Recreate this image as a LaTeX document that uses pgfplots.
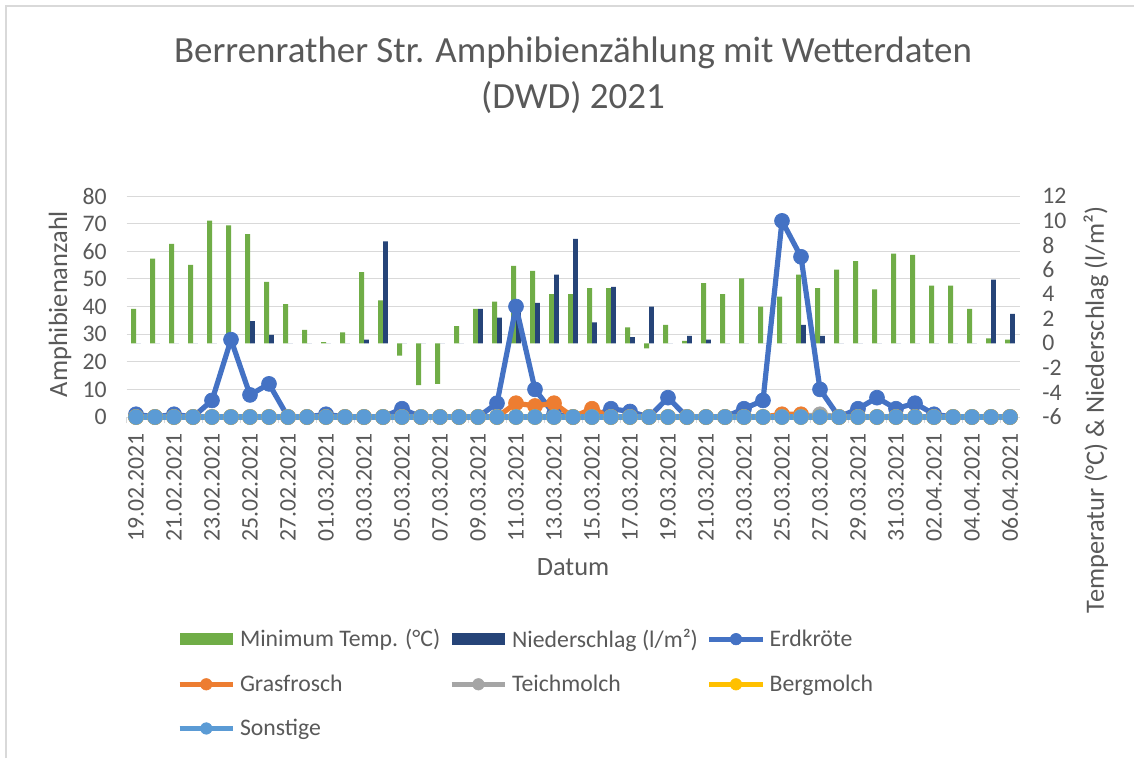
\documentclass[border=0pt]{standalone}
\usepackage{pgfplots}
\pgfplotsset{compat=1.18}
\usepackage{pgfplotstable}
\usepackage{fontspec}
\setmainfont{Carlito}
\definecolor{tgreen}{HTML}{70AD47}
\definecolor{tnavy}{HTML}{264478}
\definecolor{cErd}{HTML}{4472C4}
\definecolor{cGras}{HTML}{ED7D31}
\definecolor{cTeich}{HTML}{A5A5A5}
\definecolor{cBerg}{HTML}{FFC000}
\definecolor{cSons}{HTML}{5B9BD5}
\definecolor{textgrey}{HTML}{595959}
\definecolor{gridgrey}{HTML}{D9D9D9}
\newcommand{\lblfont}{\fontsize{17.8pt}{21pt}\selectfont}
\newcommand{\axtfont}{\fontsize{19.8pt}{23pt}\selectfont}
\newcommand{\ttlfont}{\fontsize{27.7pt}{34.5pt}\selectfont}

\pgfplotstableread{
x temp rain erd gras teich berg sons
1 2.8 0 1 0 0 0 0
2 6.9 0 0 0 0 0 0
3 8.1 0 1 0 0 0 0
4 6.4 0 0 0 0 0 0
5 10.0 0 6 0 0 0 0
6 9.6 0 28 0 0 0 0
7 8.9 1.8 8 0 0 0 0
8 5.0 0.7 12 0 0 0 0
9 3.2 0 0 0 0 0 0
10 1.1 0 0 0 0 0 0
11 0.1 0 1 0 0 0 0
12 0.9 0 0 0 0 0 0
13 5.8 0.3 0 0 0 0 0
14 3.5 8.3 0 0 0 0 0
15 -1.0 0 3 0 0 0 0
16 -3.4 0 0 0 0 0 0
17 -3.3 0 0 0 0 0 0
18 1.4 0 0 0 0 0 0
19 2.8 2.8 0 0 0 0 0
20 3.4 2.1 5 0 0 0 0
21 6.3 2.8 40 5 0 0 0
22 5.9 3.3 10 4 0 0 0
23 4.0 5.6 1 5 0 0 0
24 4.0 8.5 0 0 0 0 0
25 4.5 1.7 0 3 0 0 0
26 4.5 4.6 3 0 0 0 0
27 1.3 0.5 2 0 0 0 0
28 -0.4 3.0 0 0 0 0 0
29 1.5 0 7 0 0 0 0
30 0.2 0.6 0 0 0 0 0
31 4.9 0.3 0 0 0 0 0
32 4.0 0 0 0 0 0 0
33 5.3 0 3 0 0 0 0
34 3.0 0 6 0 0 0 0
35 3.8 0 71 1 0 0 0
36 5.6 1.5 58 1 0 0 0
37 4.5 0.6 10 0 1 0 0
38 6.0 0 0 0 0 0 0
39 6.7 0 3 0 0 0 0
40 4.4 0 7 0 0 0 0
41 7.3 0 3 0 0 0 0
42 7.2 0 5 0 0 0 0
43 4.7 0 1 0 0 0 0
44 4.7 0 0 0 0 0 0
45 2.8 0 0 0 0 0 0
46 0.4 5.2 0 0 0 0 0
47 0.3 2.4 0 0 0 0 0
}\data

\pgfplotsset{
  linelegend/.style={legend image code/.code={\draw[mark repeat=2,mark phase=2,##1] plot coordinates {(0pt,0pt) (20pt,0pt) (40pt,0pt)};}},
  barlegend/.style={legend image code/.code={\fill[##1, draw=none] (0pt,-4.5pt) rectangle (40pt,4.5pt);}},
  common/.style={
    at={(94.875pt,-312.75pt)}, anchor=south west,
    scale only axis, width=669.75pt, height=165.75pt,
    xmin=0.5, xmax=47.5,
    every tick label/.append style={font=\lblfont, text=textgrey},
    /pgf/number format/assume math mode=true,
  },
  serie/.style={line width=3.9pt, line join=round, mark=*, mark size=5.6pt, color=#1, mark options={fill=#1, draw=#1, line width=0.5pt}},
  legserie/.style={line width=3.6pt, mark=*, mark size=4.3pt, color=#1, mark options={fill=#1, draw=#1, line width=0.5pt}, linelegend},
}

\begin{document}
\begin{tikzpicture}
\useasboundingbox (0pt,0pt) rectangle (850.5pt,-568.5pt);
\fill[white] (0pt,0pt) rectangle (850.5pt,-568.5pt);
\draw[gridgrey, line width=1.2pt] (4.5pt,-568.5pt) -- (4.5pt,-4.5pt) -- (850.5pt,-4.5pt);

% bars on the right axis
\begin{axis}[common,
  ymin=-6, ymax=12,
  axis y line*=right, axis x line*=bottom,
  y axis line style={draw=none},
  x axis line style={draw=gridgrey, line width=0.75pt},
  ytick={-6,-4,...,12},
  yticklabel style={anchor=west, inner sep=0pt},
  yticklabel shift=16.9pt,
  major tick length=0pt,
  extra y ticks={-3.75,-1.5,0.75,3,5.25,7.5,9.75,12},
  extra y tick labels={},
  extra y tick style={grid=major, major grid style={draw=gridgrey, line width=0.75pt}},
  xtick={1,3,...,47},
  xticklabels={19.02.2021,21.02.2021,23.02.2021,25.02.2021,27.02.2021,01.03.2021,03.03.2021,05.03.2021,07.03.2021,09.03.2021,11.03.2021,13.03.2021,15.03.2021,17.03.2021,19.03.2021,21.03.2021,23.03.2021,25.03.2021,27.03.2021,29.03.2021,31.03.2021,02.04.2021,04.04.2021,06.04.2021},
  xticklabel style={rotate=90, anchor=east, inner sep=0pt},
  xticklabel shift=12pt,
  extra x ticks={0.5,2.5,...,46.5},
  extra x tick labels={},
  extra x tick style={major tick length=4.5pt, tick align=outside, tick style={draw=gridgrey, line width=0.75pt}},
]
\addplot[ybar, bar width=3.6pt, bar shift=-1.8pt, fill=tgreen, draw=none] table[x=x, y=temp] {\data};
\addplot[ybar, bar width=3.6pt, bar shift=1.8pt, fill=tnavy, draw=none] table[x=x, y=rain] {\data};
\end{axis}

% counts on the left axis
\begin{axis}[common,
  ymin=0, ymax=80,
  axis y line*=left, axis x line=none,
  y axis line style={draw=none},
  ytick={0,10,...,80},
  yticklabel style={anchor=east, inner sep=0pt},
  yticklabel shift=14.6pt,
  major tick length=0pt,
  clip=false,
  legend columns=3,
  legend cell align=left,
  legend style={draw=none, fill=none, at={(0.0520,-0.946)}, anchor=north west,
    font=\lblfont, text=textgrey, nodes={inner sep=0pt},
    row sep=19.3pt,
    /tikz/every odd column/.style={column sep=3.5pt},
    /tikz/every even column/.style={column sep=6.75pt}},
]
\addlegendimage{barlegend, fill=tgreen}
\addlegendentry{Minimum Temp. (°C)}
\addlegendimage{barlegend, fill=tnavy}
\addlegendentry{Niederschlag (l/m²)}
\addlegendimage{legserie=cErd}
\addlegendentry{Erdkröte}
\addlegendimage{legserie=cGras}
\addlegendentry{Grasfrosch}
\addlegendimage{legserie=cTeich}
\addlegendentry{Teichmolch}
\addlegendimage{legserie=cBerg}
\addlegendentry{Bergmolch}
\addlegendimage{legserie=cSons}
\addlegendentry{Sonstige}
\addplot[serie=cErd, forget plot] table[x=x, y=erd] {\data};
\addplot[serie=cGras, forget plot] table[x=x, y=gras] {\data};
\addplot[serie=cTeich, forget plot] table[x=x, y=teich] {\data};
\addplot[serie=cBerg, forget plot] table[x=x, y=berg] {\data};
\addplot[serie=cSons, forget plot] table[x=x, y=sons] {\data};
\end{axis}

\node[font=\ttlfont, text=textgrey, anchor=base] at (429.75pt,-46.5pt) {Berrenrather Str. Amphibienzählung mit Wetterdaten};
\node[font=\ttlfont, text=textgrey, anchor=base] at (429.75pt,-81pt) {(DWD) 2021};
\node[font=\axtfont, text=textgrey, rotate=90] at (45pt,-228pt) {Amphibienanzahl};
\node[font=\axtfont, text=textgrey, rotate=90] at (822pt,-307.5pt) {Temperatur (°C) \& Niederschlag (l/m²)};
\node[font=\axtfont, text=textgrey] at (429.75pt,-425.25pt) {Datum};
\end{tikzpicture}
\end{document}
